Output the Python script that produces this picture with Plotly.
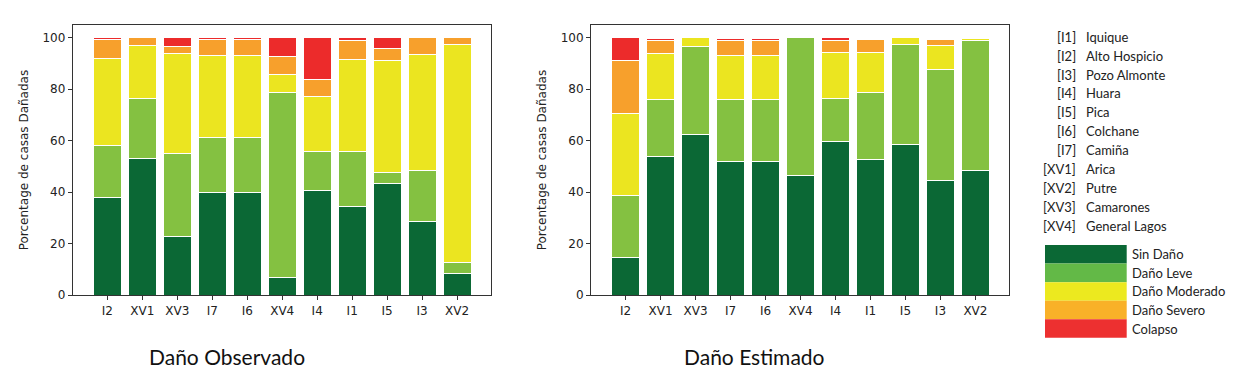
import plotly.graph_objects as go

categories = ["I2", "XV1", "XV3", "I7", "I6", "XV4", "I4", "I1", "I5", "I3", "XV2"]
damage_levels = ["Sin Daño", "Daño Leve", "Daño Moderado", "Daño Severo", "Colapso"]

# Daño Observado (percent per level, same order as categories)
obs_sin = [38.0, 53.0, 23.0, 40.0, 40.0, 7.0, 40.7, 34.6, 43.3, 28.8, 8.3]
obs_leve = [20.2, 23.3, 31.9, 21.2, 21.2, 71.6, 15.1, 21.2, 4.3, 19.8, 4.3]
obs_mod = [33.6, 20.9, 39.1, 32.1, 32.1, 7.3, 21.5, 35.6, 43.7, 44.8, 84.9]
obs_sev = [7.4, 2.8, 2.6, 6.2, 6.2, 7.0, 6.4, 7.4, 4.5, 6.6, 2.5]
obs_col = [0.8, 0.0, 3.4, 0.5, 0.5, 7.1, 16.3, 1.2, 4.2, 0.0, 0.0]

# Daño Estimado
est_sin = [14.5, 53.8, 62.5, 52.0, 52.0, 46.6, 59.7, 52.8, 58.6, 44.5, 48.6]
est_leve = [24.3, 22.3, 34.1, 24.1, 24.1, 53.4, 16.6, 25.8, 38.9, 43.3, 50.3]
est_mod = [31.6, 17.7, 3.4, 17.2, 17.2, 0.0, 17.9, 15.6, 2.5, 9.4, 0.9]
est_sev = [20.9, 5.1, 0.0, 5.6, 5.6, 0.0, 4.9, 5.1, 0.0, 2.0, 0.0]
est_col = [8.7, 1.0, 0.0, 1.0, 1.0, 0.0, 0.9, 0.0, 0.0, 0.0, 0.0]

region_codes = ["[I1]", "[I2]", "[I3]", "[I4]", "[I5]", "[I6]", "[I7]", "[XV1]", "[XV2]", "[XV3]", "[XV4]"]
region_names = ["Iquique", "Alto Hospicio", "Pozo Almonte", "Huara", "Pica", "Colchane", "Camiña",
                "Arica", "Putre", "Camarones", "General Lagos"]

panel_titles = ["Daño Observado", "Daño Estimado"]
y_title = "Porcentage de casas Dañadas"

bar_colors = ["#0b6835", "#84c141", "#ebe520", "#f7a02c", "#ec2b2b"]
legend_colors = ["#0b6835", "#63b947", "#ece91f", "#f9b128", "#ed3030"]

W, H = 1245, 384
HY = 378.0  # effective vertical scale used for paper positions
fig = go.Figure()

obs = [obs_sin, obs_leve, obs_mod, obs_sev, obs_col]
est = [est_sin, est_leve, est_mod, est_sev, est_col]

for series, xa, ya in [(obs, "x", "y"), (est, "x2", "y2")]:
    for name, vals, col in zip(damage_levels, series, bar_colors):
        fig.add_trace(go.Bar(
            x=categories, y=vals, name=name, xaxis=xa, yaxis=ya,
            marker=dict(color=col, line=dict(color="white", width=1)),
            width=0.8, showlegend=False, hoverinfo="x+y+name"))

ytop = 1 - 25 / HY
ybot = 1 - 296 / HY
tick_font = dict(family="DejaVu Sans", size=12, color="#222")
axis_common = dict(showline=True, linecolor="#333", linewidth=1, mirror=True,
                   ticks="outside", ticklen=4, tickcolor="#333", showgrid=False,
                   zeroline=False, tickfont=tick_font)

fig.update_layout(
    width=W, height=H, autosize=False, barmode="stack", bargap=0.2,
    paper_bgcolor="white", plot_bgcolor="white",
    margin=dict(l=0, r=0, t=0, b=0),
    xaxis=dict(domain=[72.7 / W, 490.7 / W], anchor="y", type="category",
               range=[-0.99, 10.96], **axis_common),
    yaxis=dict(domain=[ybot, ytop], anchor="x", range=[0, 105],
               tickvals=[0, 20, 40, 60, 80, 100],
               title=dict(text=y_title, standoff=11, font=tick_font),
               **axis_common),
    xaxis2=dict(domain=[591 / W, 1009 / W], anchor="y2", type="category",
                range=[-0.99, 10.96], **axis_common),
    yaxis2=dict(domain=[ybot, ytop], anchor="x2", range=[0, 105],
                tickvals=[0, 20, 40, 60, 80, 100],
                title=dict(text=y_title, standoff=11, font=tick_font),
                **axis_common),
)

annotations = []
shapes = []
# Panel titles below charts
for t, cx in zip(panel_titles, [227, 754]):
    annotations.append(dict(text=t, x=cx / W, y=1 - 357 / HY, xref="paper", yref="paper",
                            showarrow=False, xanchor="center", yanchor="middle",
                            font=dict(family="Lato", size=21, color="#111")))

legend_font = dict(family="Lato", size=13, color="#222")
# Region list
row_y0, row_dy = 36.7, 19.0
for i, (code, nm) in enumerate(zip(region_codes, region_names)):
    yy = 1 - (row_y0 + i * row_dy) / HY
    annotations.append(dict(text=code, x=1077.5 / W, y=yy, xref="paper", yref="paper",
                            showarrow=False, xanchor="right", yanchor="middle",
                            font=legend_font))
    annotations.append(dict(text=nm, x=1084 / W, y=yy, xref="paper", yref="paper",
                            showarrow=False, xanchor="left", yanchor="middle",
                            font=legend_font))

# Color legend
box_top, box_h = 245.7, 18.6
for i, (lvl, col) in enumerate(zip(damage_levels, legend_colors)):
    y0 = box_top + i * box_h
    shapes.append(dict(type="rect", xref="paper", yref="paper",
                       x0=1045 / W, x1=1126.7 / W, y0=1 - (y0 + box_h) / HY, y1=1 - y0 / HY,
                       fillcolor=col, line=dict(width=0)))
    annotations.append(dict(text=lvl, x=1130 / W, y=1 - (y0 + box_h / 2) / HY,
                            xref="paper", yref="paper", showarrow=False,
                            xanchor="left", yanchor="middle",
                            font=legend_font))

fig.update_layout(annotations=annotations, shapes=shapes)
fig.write_html("out.html",
               config={"responsive": False, "displayModeBar": False},
               post_script="document.body.style.margin='0';document.body.style.overflow='hidden';")
